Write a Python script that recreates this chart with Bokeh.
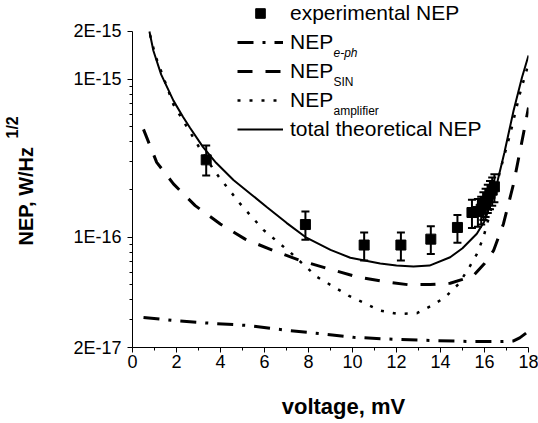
from math import pi
from bokeh.plotting import figure
from bokeh.layouts import row, column
from bokeh.models import (ColumnDataSource, FixedTicker, CustomJSTickFormatter, Label,
                          Legend, LegendItem, Whisker, TeeHead, Range1d)
from bokeh.embed import file_html
from bokeh.resources import INLINE

FONT = "Liberation Sans"

# ---- experimental NEP (voltage in mV, NEP in W/Hz^1/2) ----
exp_voltage = [3.35, 7.86, 10.53, 12.2, 13.56, 14.77, 15.43, 15.7, 15.85, 15.95, 16.05, 16.15, 16.25, 16.35, 16.45]
exp_nep = [3.08e-16, 1.2e-16, 8.9e-17, 8.9e-17, 9.7e-17, 1.15e-16, 1.43e-16, 1.45e-16, 1.5e-16,
           1.6e-16, 1.68e-16, 1.78e-16, 1.88e-16, 1.98e-16, 2.08e-16]
exp_low = [2.45e-16, 9.6e-17, 7.1e-17, 7.1e-17, 7.8e-17, 9.2e-17, 1.14e-16, 1.16e-16, 1.2e-16,
           1.28e-16, 1.34e-16, 1.42e-16, 1.5e-16, 1.58e-16, 1.66e-16]
exp_high = [3.8e-16, 1.45e-16, 1.07e-16, 1.07e-16, 1.17e-16, 1.38e-16, 1.72e-16, 1.74e-16, 1.8e-16,
            1.92e-16, 2.02e-16, 2.14e-16, 2.26e-16, 2.38e-16, 2.5e-16]

# ---- NEP e-ph ----
eph_voltage = [0.5, 2.0, 3.5, 5.35, 7.0, 8.5, 10.05, 12.0, 13.84, 15.5, 16.86, 17.32, 17.6, 17.93, 18.0]
eph_nep = [3.1e-17, 2.95e-17, 2.85e-17, 2.75e-17, 2.57e-17, 2.45e-17, 2.32e-17, 2.25e-17, 2.21e-17,
           2.18e-17, 2.18e-17, 2.2e-17, 2.3e-17, 2.49e-17, 2.55e-17]

# ---- NEP SIN ----
sin_voltage = [0.5, 1.1, 1.86, 2.85, 3.99, 5.12, 6.41, 7.62, 8.91, 10.2, 11.56, 12.5, 13.53, 14.44,
               15.0, 15.5, 16.0, 16.41, 16.86, 17.32, 17.77, 18.0]
sin_nep = [4.8e-16, 2.97e-16, 2.17e-16, 1.58e-16, 1.21e-16, 9.7e-17, 8.2e-17, 7.1e-17, 6.3e-17, 5.6e-17,
           5.2e-17, 5.0e-17, 5.0e-17, 5.1e-17, 5.4e-17, 5.7e-17, 6.8e-17, 8.2e-17, 1.21e-16, 2.17e-16,
           4.5e-16, 6.6e-16]

# ---- NEP amplifier ----
amp_voltage = [0.8, 1.03, 1.86, 2.62, 3.3, 3.91, 4.9, 5.95, 7.17, 8.38, 9.82, 11.26, 12.09, 12.93,
               13.6, 14.2, 14.82, 15.27, 15.65, 15.95, 16.3, 16.7, 17.17, 17.6, 18.0]
amp_nep = [1.9e-15, 1.42e-15, 6.9e-16, 4.6e-16, 3.2e-16, 2.42e-16, 1.62e-16, 1.11e-16, 8.0e-17, 5.6e-17,
           4.26e-17, 3.42e-17, 3.26e-17, 3.3e-17, 3.68e-17, 4.15e-17, 5.04e-17, 6.3e-17, 7.8e-17,
           9.95e-17, 1.5e-16, 2.6e-16, 4.5e-16, 8.0e-16, 1.25e-15]

# ---- total theoretical NEP ----
tot_voltage = [0.77, 0.95, 1.3, 1.86, 2.3, 2.62, 3.2, 3.8, 4.6, 5.4, 6.1, 7.0, 7.86, 9.0, 9.9, 11.26,
               12.0, 12.77, 13.5, 14.44, 15.0, 15.65, 16.0, 16.49, 16.9, 17.32, 17.7, 18.0]
tot_nep = [2.0e-15, 1.51e-15, 1.07e-15, 7.3e-16, 5.75e-16, 4.9e-16, 3.72e-16, 2.95e-16, 2.29e-16,
           1.86e-16, 1.55e-16, 1.23e-16, 1.0e-16, 8.3e-17, 7.4e-17, 6.8e-17, 6.6e-17, 6.5e-17, 6.6e-17,
           7.45e-17, 8.5e-17, 1.05e-16, 1.26e-16, 1.97e-16, 3.4e-16, 6.3e-16, 1.02e-15, 1.41e-15]

x_ticks = [0, 2, 4, 6, 8, 10, 12, 14, 16, 18]
x_minor = [1, 3, 5, 7, 9, 11, 13, 15, 17]
y_ticks = [2e-17, 1e-16, 1e-15, 2e-15]
y_minor = [3e-17, 4e-17, 5e-17, 6e-17, 7e-17, 8e-17, 9e-17,
           2e-16, 3e-16, 4e-16, 5e-16, 6e-16, 7e-16, 8e-16, 9e-16]


def text_panel(width, height):
    # a bare figure (no axes) used only to hold axis titles
    f = figure(width=width, height=height, x_range=Range1d(0, 1), y_range=Range1d(0, 1),
               x_axis_type=None, y_axis_type=None, min_border=0, output_backend="svg",
               toolbar_location=None)
    f.outline_line_color = None
    f.background_fill_color = "white"
    f.border_fill_color = "white"
    return f


# ---- main plot: frame reaches the top of the canvas (room for the legend) ----
p = figure(width=488, height=380, x_range=Range1d(0, 18), y_range=Range1d(2e-17, 3.14e-15),
           y_axis_type="log", output_backend="svg", toolbar_location=None,
           min_border_left=82, min_border_right=10, min_border_top=0, min_border_bottom=33)
p.outline_line_color = None
p.xgrid.visible = False
p.ygrid.visible = False
p.background_fill_color = "white"
p.border_fill_color = "white"

for ax in (p.xaxis[0], p.yaxis[0]):
    ax.axis_line_color = "black"
    ax.axis_line_width = 1
    ax.major_tick_line_color = "black"
    ax.minor_tick_line_color = "black"
    ax.major_tick_in = 0
    ax.major_tick_out = 5
    ax.minor_tick_in = 0
    ax.minor_tick_out = 3
    ax.major_label_text_font = FONT
    ax.major_label_text_font_size = "18px"
    ax.major_label_text_color = "black"

p.xaxis.ticker = FixedTicker(ticks=x_ticks, minor_ticks=x_minor)
p.xaxis.major_label_standoff = 2
p.yaxis.ticker = FixedTicker(ticks=y_ticks, minor_ticks=y_minor)
p.yaxis.bounds = (2e-17, 2e-15)
p.yaxis.major_label_standoff = 6
p.yaxis.formatter = CustomJSTickFormatter(code="""
    const e = Math.floor(Math.log10(tick) + 1e-9);
    const m = Math.round(tick / Math.pow(10, e));
    return m + "E" + e;
""")

r_eph = p.line(eph_voltage, eph_nep, line_color="black", line_width=3, line_dash="16 9 3 9")
r_sin = p.line(sin_voltage, sin_nep, line_color="black", line_width=3, line_dash="15 13")
r_amp = p.line(amp_voltage, amp_nep, line_color="black", line_width=2.5, line_dash="3 9")
r_tot = p.line(tot_voltage, tot_nep, line_color="black", line_width=2)

src = ColumnDataSource(dict(x=exp_voltage, y=exp_nep, lo=exp_low, hi=exp_high))
p.add_layout(Whisker(source=src, base="x", lower="lo", upper="hi", line_color="black", line_width=2,
                     upper_head=TeeHead(size=8, line_width=2, line_color="black"),
                     lower_head=TeeHead(size=8, line_width=2, line_color="black")))
r_exp = p.scatter("x", "y", source=src, marker="square", size=10, color="black")

legend = Legend(items=[
    LegendItem(label="experimental NEP", renderers=[r_exp]),
    LegendItem(label="NEP", renderers=[r_eph]),
    LegendItem(label="NEP", renderers=[r_sin]),
    LegendItem(label="NEP", renderers=[r_amp]),
    LegendItem(label="total theoretical NEP", renderers=[r_tot]),
], location=(105, 206), orientation="vertical", background_fill_alpha=0, border_line_color=None,
    padding=0, margin=0, spacing=5, glyph_width=46, glyph_height=24, label_height=24,
    label_standoff=7, label_text_font=FONT, label_text_font_size="21px", label_text_color="black")
p.add_layout(legend)

# subscripts of the three NEP legend entries
for txt, yy, style in (("e-ph", 295, "italic"), ("SIN", 266, "normal"), ("amplifier", 237, "normal")):
    p.add_layout(Label(x=201, y=yy, x_units="screen", y_units="screen", text=txt,
                       text_font=FONT, text_font_size="12px", text_font_style=style,
                       text_baseline="middle", text_color="black"))

# ---- y axis title (left strip; its frame is aligned with the main frame) ----
left = text_panel(50, 380)
left.add_layout(Label(x=25, y=102, x_units="screen", y_units="screen", text="NEP, W/Hz", angle=pi / 2,
                      text_font=FONT, text_font_size="20px", text_font_style="bold",
                      text_align="left", text_baseline="middle", text_color="black"))
left.add_layout(Label(x=12, y=209, x_units="screen", y_units="screen", text="1/2", angle=pi / 2,
                      text_font=FONT, text_font_size="16px", text_font_style="bold",
                      text_align="left", text_baseline="middle", text_color="black"))

# ---- x axis title (bottom strip) ----
bottom = text_panel(538, 43)
bottom.add_layout(Label(x=343, y=17, x_units="screen", y_units="screen", text="voltage, mV",
                        text_font=FONT, text_font_size="22px", text_font_style="bold",
                        text_align="center", text_baseline="middle", text_color="black"))

layout = column(row(left, p, spacing=0), bottom, spacing=0)
open("out.html", "w").write(file_html(layout, INLINE))
